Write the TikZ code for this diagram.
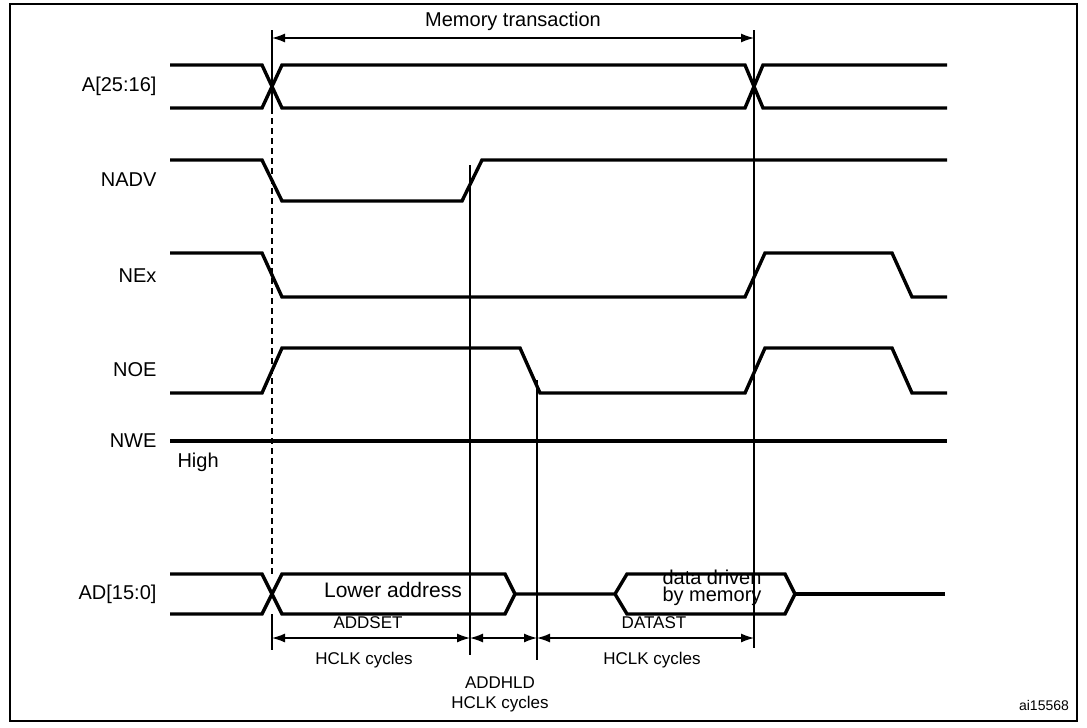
\documentclass[tikz,border=0pt]{standalone}
\usepackage{fontspec}
\setmainfont{Liberation Sans}
\usetikzlibrary{arrows.meta}

\begin{document}
\begin{tikzpicture}[x=1pt, y=-1pt,
    sig/.style={line width=3.4pt, line join=miter},
    edge line/.style={line width=1.3pt},
    dim/.style={line width=1.3pt, {Latex[length=13pt,width=9pt]}-{Latex[length=13pt,width=9pt]}},
    lbl/.style={anchor=east, font=\fontsize{20}{22}\selectfont},
    txt/.style={font=\fontsize{17}{19}\selectfont, align=center, inner sep=0pt}]
    \useasboundingbox (0,0) rectangle (1087,728);
    % Frame
    \draw[line width=2.4pt] (10,4) rectangle (1077,721);
    % Signal names
    \node[lbl] (a) at (160,86) {A[25:16]};
    \node[lbl] (nadv) at (160,180) {NADV};
    \node[lbl] (nex) at (160,276) {NEx};
    \node[lbl] (noe) at (160,370) {NOE};
    \node[lbl] (nwe) at (160,441) {NWE};
    \node[lbl] (ad) at (160,594) {AD[15:0]};
    \node[font=\fontsize{20}{22}\selectfont, anchor=west] (high) at (174,462) {High};
    % Waveforms
    \draw[sig] (170,65) -- (262,65) -- (282,108) -- (745,108) -- (763,65) -- (947,65);
    \draw[sig] (170,108) -- (262,108) -- (282,65) -- (745,65) -- (763,108) -- (947,108);
    \draw[sig] (170,160) -- (262,160) -- (282,201) -- (462,201) -- (482,160) -- (947,160);
    \draw[sig] (170,253) -- (262,253) -- (282,297) -- (745,297) -- (765,253) -- (892,253) -- (912,297) -- (947,297);
    \draw[sig] (170,393) -- (262,393) -- (282,348) -- (520,348) -- (540,393) -- (745,393) -- (765,348) -- (892,348) -- (912,393) -- (947,393);
    \draw[sig] (170,441) -- (947,441);
    \draw[sig] (170,574) -- (262,574) -- (282,614) -- (505,614) -- (515,594) -- (505,574) -- (282,574) -- (262,614) -- (170,614);
    \draw[sig] (515,594) -- (615,594) -- (627,574) -- (785,574) -- (795,594) -- (785,614) -- (627,614) -- (615,594);
    \draw[sig] (795,594) -- (945,594);
    \node[font=\fontsize{21}{23}\selectfont] (low) at (393,590) {Lower address};
    \node[txt, font=\fontsize{20}{17}\selectfont] (data) at (712,588) {data driven\\by memory};
    % Marker lines
    \coordinate (t0) at (272,30);
    \coordinate (t1) at (470,165);
    \coordinate (t2) at (537,380);
    \coordinate (t3) at (754,30);
    \draw[edge line] (t0) -- (272,108);
    \draw[edge line, dash pattern=on 6pt off 4pt] (272,108) -- (272,574);
    \draw[edge line] (272,614) -- (272,650);
    \draw[edge line] (t1) -- (470,655);
    \draw[edge line] (t2) -- (537,660);
    \draw[edge line] (t3) -- (754,648);
    % Dimensions
    \draw[dim] (272,38) -- node[above=3pt, font=\fontsize{20}{22}\selectfont] (mt) {Memory transaction} (754,38);
    \draw[dim] (272,638) -- (470,638);
    \draw[dim] (470,638) -- (537,638);
    \draw[dim] (537,638) -- (754,638);
    \node[txt] (addset) at (368,623) {ADDSET};
    \node[txt] (hclk1) at (364,660) {HCLK cycles};
    \node[txt] (addhld) at (500,694) {ADDHLD\\[1pt]HCLK cycles};
    \node[txt] (datast) at (654,623) {DATAST};
    \node[txt] (hclk3) at (652,660) {HCLK cycles};
    \node[font=\fontsize{14}{16}\selectfont] (id) at (1044,705) {ai15568};
\end{tikzpicture}
\end{document}
